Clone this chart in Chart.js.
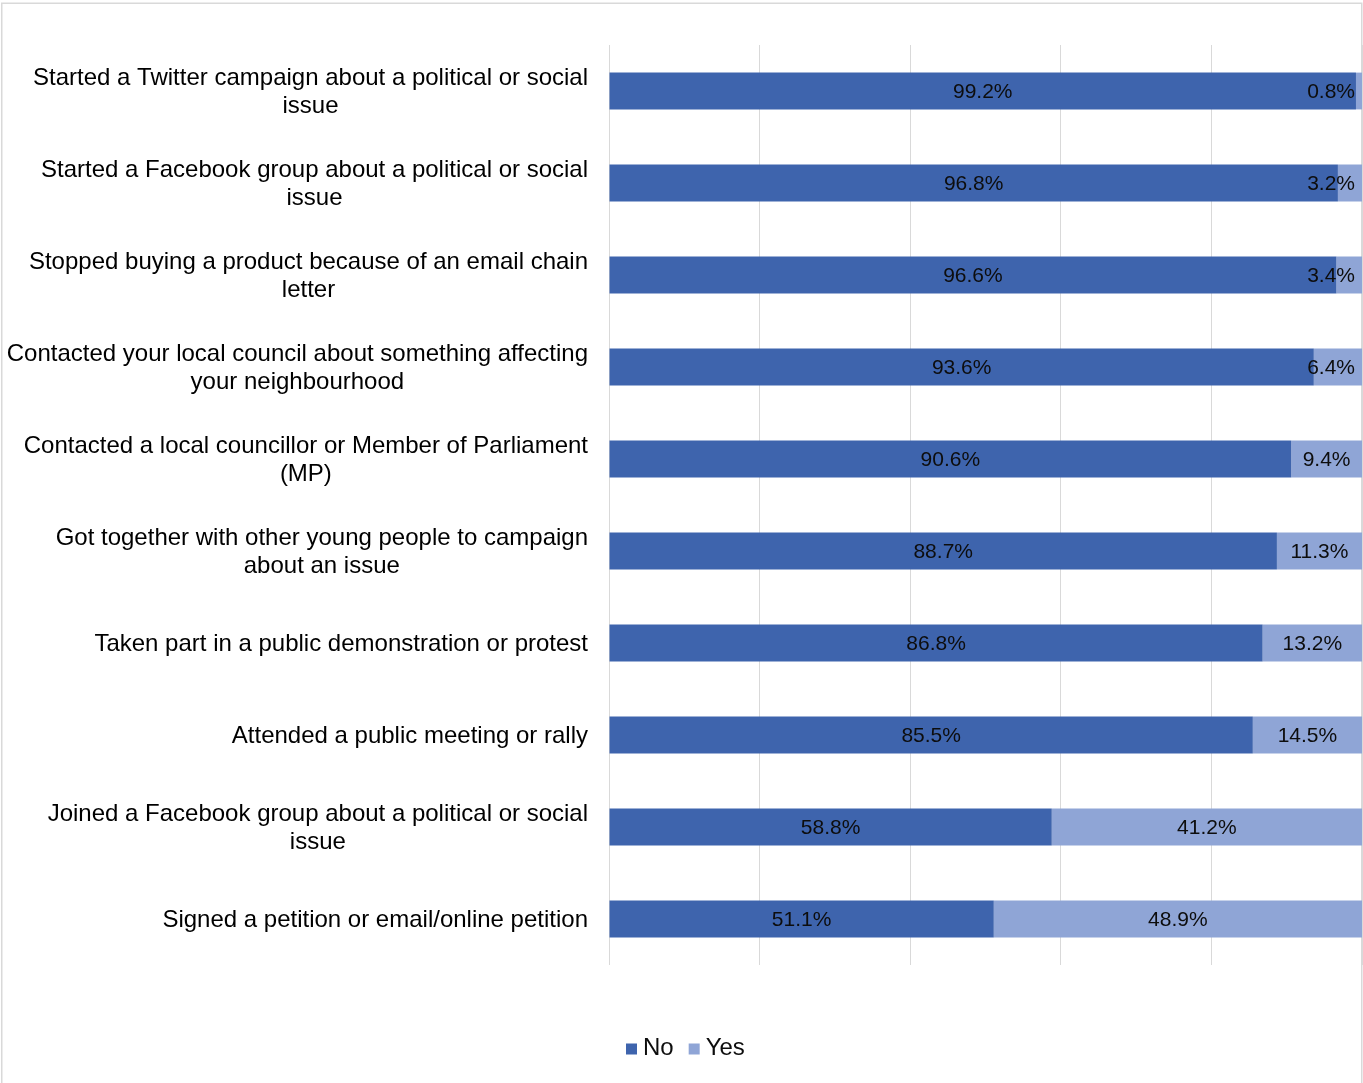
<!DOCTYPE html>
<html>
<head>
<meta charset="utf-8">
<script src="https://cdn.jsdelivr.net/npm/chart.js@4/dist/chart.umd.min.js"></script>
<style>
  html, body { margin: 0; padding: 0; background: #fff; }
  #wrap { width: 1363px; height: 1083px; position: relative; }
</style>
</head>
<body>
<div id="wrap"><canvas id="c" width="1363" height="1083"></canvas></div>
<script>
const categories = [
  ["Started a Twitter campaign about a political or social", "issue"],
  ["Started a Facebook group about a political or social", "issue"],
  ["Stopped buying a product because of an email chain", "letter"],
  ["Contacted your local council about something affecting", "your neighbourhood"],
  ["Contacted a local councillor or Member of Parliament", "(MP)"],
  ["Got together with other young people to campaign", "about an issue"],
  ["Taken part in a public demonstration or protest"],
  ["Attended a public meeting or rally"],
  ["Joined a Facebook group about a political or social", "issue"],
  ["Signed a petition or email/online petition"]
];
const noValues  = [99.2, 96.8, 96.6, 93.6, 90.6, 88.7, 86.8, 85.5, 58.8, 51.1];
const yesValues = [0.8, 3.2, 3.4, 6.4, 9.4, 11.3, 13.2, 14.5, 41.2, 48.9];
const seriesNames = ["No", "Yes"];
const xTicks = [0, 20, 40, 60, 80, 100];

const COL_NO = '#3E64AD';
const COL_YES = '#8FA5D6';
const FONT = '"Liberation Sans", Arial, sans-serif';

const frame = {
  id: 'frame',
  beforeDraw(chart) {
    const ctx = chart.ctx;
    ctx.save();
    ctx.fillStyle = '#fff';
    ctx.fillRect(0, 0, chart.width, chart.height);
    ctx.strokeStyle = '#d9d9d9';
    ctx.lineWidth = 1.5;
    ctx.strokeRect(1.75, 3.25, 1360, 1100);
    ctx.restore();
  }
};

const catLabels = {
  id: 'catLabels',
  afterDraw(chart) {
    const ctx = chart.ctx;
    const y = chart.scales.y;
    ctx.save();
    ctx.font = '24px ' + FONT;
    ctx.fillStyle = '#000';
    ctx.textBaseline = 'middle';
    ctx.textAlign = 'center';
    const rightEdge = 588;
    const lh = 27.8;
    categories.forEach((lines, i) => {
      const cy = y.getPixelForValue(i) + 1;
      let maxW = 0;
      lines.forEach(l => { maxW = Math.max(maxW, ctx.measureText(l).width); });
      const cx = rightEdge - maxW / 2;
      const top = cy - (lines.length - 1) * lh / 2;
      lines.forEach((l, k) => ctx.fillText(l, cx, top + k * lh));
    });
    ctx.restore();
  }
};

const dataLabels = {
  id: 'dataLabels',
  afterDatasetsDraw(chart) {
    const ctx = chart.ctx;
    const area = chart.chartArea;
    ctx.save();
    ctx.font = '21px ' + FONT;
    ctx.fillStyle = '#0d0d0d';
    ctx.textBaseline = 'middle';
    ctx.textAlign = 'left';
    chart.data.datasets.forEach((ds, di) => {
      const meta = chart.getDatasetMeta(di);
      meta.data.forEach((bar, i) => {
        const txt = ds.data[i].toFixed(1) + '%';
        const w = ctx.measureText(txt).width;
        const cx = (bar.x + bar.base) / 2;
        let x = cx - w / 2;
        if (x + w > area.right - 7) x = area.right - 7 - w;
        ctx.fillText(txt, x, bar.y + 1);
      });
    });
    ctx.restore();
  }
};

const customLegend = {
  id: 'customLegend',
  afterDraw(chart) {
    const ctx = chart.ctx;
    ctx.save();
    ctx.font = '24px ' + FONT;
    ctx.textBaseline = 'middle';
    ctx.textAlign = 'left';
    const y = 1048;
    let x = 626;
    chart.data.datasets.forEach((ds, i) => {
      ctx.fillStyle = ds.backgroundColor;
      ctx.fillRect(x, y - 4.5, 11, 11);
      ctx.fillStyle = '#0d0d0d';
      ctx.fillText(ds.label, x + 17, y);
      x += 17 + ctx.measureText(ds.label).width + 15;
    });
    ctx.restore();
  }
};

new Chart(document.getElementById('c'), {
  type: 'bar',
  data: {
    labels: categories.map(c => c.join(' ')),
    datasets: [
      { label: seriesNames[0], data: noValues, backgroundColor: COL_NO,
        borderWidth: 0, barPercentage: 0.4, categoryPercentage: 1.0 },
      { label: seriesNames[1], data: yesValues, backgroundColor: COL_YES,
        borderWidth: 0, barPercentage: 0.4, categoryPercentage: 1.0 }
    ]
  },
  options: {
    indexAxis: 'y',
    responsive: false,
    animation: false,
    devicePixelRatio: 1,
    layout: { padding: { left: 0, right: 1, top: 45, bottom: 118 } },
    plugins: {
      legend: { display: false },
      tooltip: { enabled: false }
    },
    scales: {
      x: {
        stacked: true,
        min: xTicks[0],
        max: xTicks[xTicks.length - 1],
        afterBuildTicks(scale) { scale.ticks = xTicks.map(v => ({ value: v })); },
        ticks: { display: false },
        grid: { color: '#d9d9d9', lineWidth: 1, drawTicks: false },
        border: { display: false },
        afterFit(scale) { scale.height = 0; }
      },
      y: {
        stacked: true,
        ticks: { display: false },
        grid: { display: false, drawTicks: false },
        border: { display: false },
        afterFit(scale) { scale.width = 609; }
      }
    }
  },
  plugins: [frame, catLabels, dataLabels, customLegend]
});
</script>
</body>
</html>
